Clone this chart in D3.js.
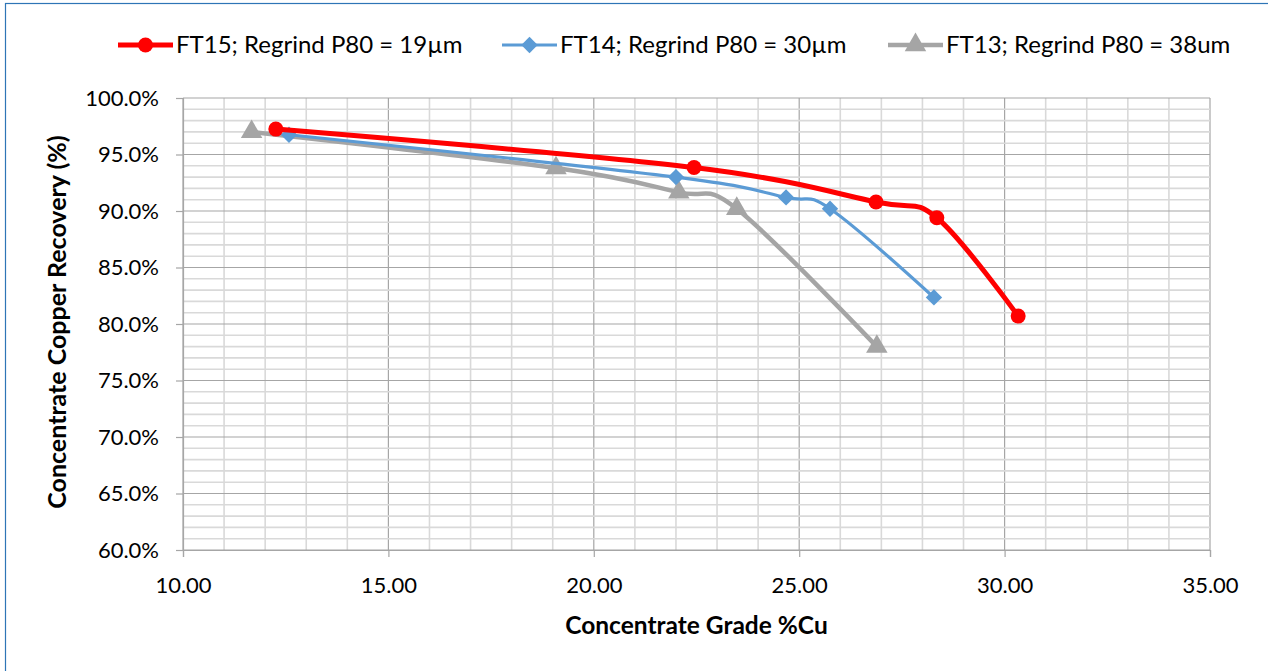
<!DOCTYPE html>
<html>
<head>
<meta charset="utf-8">
<script src="https://cdn.jsdelivr.net/npm/d3@7"></script>
<style>
body { margin: 0; background: #fff; }
text { font-family: Lato, "Open Sans", sans-serif; }
</style>
</head>
<body>
<div id="chart-area"></div>
<script>
var width = 1268, height = 671;

// series names
var seriesNames = ["FT15; Regrind P80 = 19\u00b5m", "FT14; Regrind P80 = 30\u00b5m", "FT13; Regrind P80 = 38um"];

// concentrate grade %Cu / copper recovery %
var ft15Grade = [12.26, 22.44, 26.87, 28.35, 30.33];
var ft15Recovery = [97.25, 93.85, 90.8, 89.4, 80.7];

var ft14Grade = [12.58, 22.0, 24.68, 25.75, 28.28];
var ft14Recovery = [96.75, 93.0, 91.2, 90.2, 82.35];

var ft13Grade = [11.67, 19.08, 22.07, 23.48, 26.89];
var ft13Recovery = [97.0, 93.8, 91.65, 90.2, 78.0];

var xTicks = [10, 15, 20, 25, 30, 35];
var yTicks = [60, 65, 70, 75, 80, 85, 90, 95, 100];

var colors = ["#ff0000", "#5b9bd5", "#a5a5a5"];

var series = [
	{name: seriesNames[0], grade: ft15Grade, rec: ft15Recovery, color: colors[0], width: 5, marker: "circle"},
	{name: seriesNames[1], grade: ft14Grade, rec: ft14Recovery, color: colors[1], width: 3.2, marker: "diamond"},
	{name: seriesNames[2], grade: ft13Grade, rec: ft13Recovery, color: colors[2], width: 4.5, marker: "triangle"}
];

var svg = d3.select("#chart-area").append("svg")
	.attr("width", width)
	.attr("height", height);

// chart border
svg.append("rect")
	.attr("x", 5.5).attr("y", 3.5)
	.attr("width", width + 20).attr("height", height + 20)
	.attr("fill", "#fff")
	.attr("stroke", "#2e75b6")
	.attr("stroke-width", 1.2);

var pLeft = 183, pRight = 1210, pTop = 98, pBottom = 550;

var x = d3.scaleLinear().domain([10, 35]).range([pLeft, pRight]);
var y = d3.scaleLinear().domain([60, 100]).range([pBottom, pTop]);

// grid (minor every 1, major every 5)
var g = svg.append("g");
g.selectAll(".vgrid")
	.data(d3.range(10, 36, 1))
	.enter().append("line")
	.attr("x1", (d) => x(d)).attr("x2", (d) => x(d))
	.attr("y1", pTop).attr("y2", pBottom)
	.attr("stroke", (d) => d % 5 == 0 ? "#a6a6a6" : "#d9d9d9")
	.attr("stroke-width", (d) => d % 5 == 0 ? 1.2 : 1.6);

g.selectAll(".hgrid")
	.data(d3.range(60, 101, 1))
	.enter().append("line")
	.attr("y1", (d) => y(d)).attr("y2", (d) => y(d))
	.attr("x1", pLeft).attr("x2", pRight)
	.attr("stroke", (d) => d % 5 == 0 ? "#a6a6a6" : "#d9d9d9")
	.attr("stroke-width", (d) => d % 5 == 0 ? 1.2 : 1.6);

// axes
var xAxis = svg.append("g")
	.attr("transform", "translate(0," + pBottom + ")")
	.call(d3.axisBottom(x).tickValues(xTicks).tickSize(7).tickPadding(20).tickFormat(d3.format(".2f")));
var yAxis = svg.append("g")
	.attr("transform", "translate(" + pLeft + ",0)")
	.call(d3.axisLeft(y).tickValues(yTicks).tickSize(7).tickPadding(17).tickFormat((d) => d3.format(".1f")(d) + "%"));

[xAxis, yAxis].forEach((a) => {
	a.select(".domain").attr("stroke", "#a6a6a6").attr("stroke-width", 1.2);
	a.selectAll(".tick line").attr("stroke", "#a6a6a6").attr("stroke-width", 1.2);
	a.selectAll(".tick text").attr("fill", "#000").style("font-size", "22px").style("font-family", "Lato, sans-serif");
});

// axis titles
svg.append("text")
	.attr("x", (pLeft + pRight) / 2).attr("y", 634)
	.attr("text-anchor", "middle")
	.style("font-size", "24.5px").style("font-weight", "bold")
	.text("Concentrate Grade %Cu");

svg.append("text")
	.attr("transform", "translate(66,322) rotate(-90)")
	.attr("text-anchor", "middle")
	.style("font-size", "25px").style("font-weight", "bold")
	.text("Concentrate Copper Recovery (%)");

// smoothed lines
var line = d3.line()
	.x((d) => x(d[0]))
	.y((d) => y(d[1]))
	.curve(d3.curveCardinal.tension(0));

function drawMarker(sel, type, cx, cy, color) {
	if (type == "circle") {
		sel.append("circle").attr("cx", cx).attr("cy", cy).attr("r", 7.5).attr("fill", color);
	} else if (type == "diamond") {
		sel.append("path").attr("d", d3.symbol(d3.symbolDiamond2, 170)())
			.attr("transform", "translate(" + cx + "," + cy + ")")
			.attr("fill", color);
	} else {
		sel.append("path").attr("d", d3.symbol(d3.symbolTriangle, 200)())
			.attr("transform", "translate(" + cx + "," + cy + ")")
			.attr("fill", color);
	}
}

// gray first, red on top
series.slice().reverse().forEach((s) => {
	var pts = s.grade.map((v, i) => [v, s.rec[i]]);
	svg.append("path")
		.attr("d", line(pts))
		.attr("fill", "none")
		.attr("stroke", s.color)
		.attr("stroke-width", s.width)
		.attr("stroke-linecap", "round");
	var mg = svg.append("g");
	pts.forEach((p) => drawMarker(mg, s.marker, x(p[0]), y(p[1]), s.color));
});

// legend
var legendX = [118, 502, 888];
series.forEach((s, i) => {
	var lg = svg.append("g").attr("transform", "translate(" + legendX[i] + ",45)");
	lg.append("line").attr("x1", 0).attr("x2", 55).attr("y1", 0).attr("y2", 0)
		.attr("stroke", s.color).attr("stroke-width", s.width);
	drawMarker(lg, s.marker, 27.5, 0, s.color);
	lg.append("text").attr("x", 58).attr("y", 8)
		.style("font-size", "24px")
		.text(s.name);
});
</script>
</body>
</html>
